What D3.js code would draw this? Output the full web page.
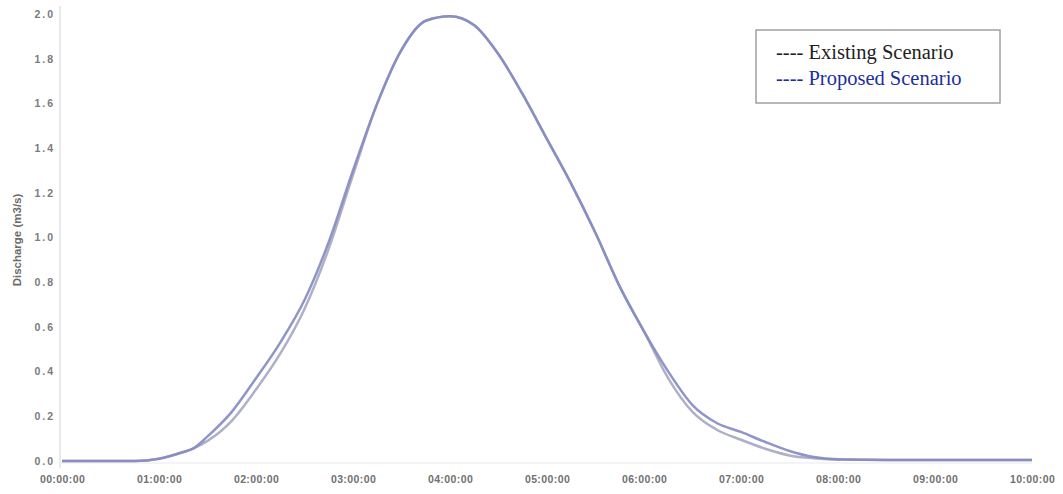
<!DOCTYPE html>
<html>
<head>
<meta charset="utf-8">
<script src="https://cdn.jsdelivr.net/npm/d3@7"></script>
<style>
  body { margin: 0; background: #fff; }
  svg { display: block; }
</style>
</head>
<body>
<svg id="chart" width="1063" height="494"></svg>
<script>
// hydrograph data, hours since start
const times = [0, 0.25, 0.5, 0.75, 1, 1.25, 1.35, 1.5, 1.75, 2, 2.25, 2.5, 2.75, 3, 3.25, 3.5, 3.75, 4, 4.25,
    4.5, 4.75, 5, 5.25, 5.5, 5.75, 6, 6.25, 6.5, 6.75, 7, 7.25, 7.5, 7.75, 8, 8.5, 9, 9.5, 10];
const existing = [0, 0, 0, 0, 0.01, 0.04, 0.055, 0.09, 0.18, 0.32, 0.48, 0.68, 0.95, 1.28, 1.6, 1.84, 1.97, 1.99, 1.95,
    1.82, 1.64, 1.44, 1.24, 1.02, 0.78, 0.58, 0.37, 0.22, 0.14, 0.095, 0.055, 0.025, 0.012, 0.006, 0.005, 0.005, 0.005, 0.005];
const proposed = [0, 0, 0, 0, 0.01, 0.04, 0.055, 0.11, 0.22, 0.37, 0.53, 0.72, 0.98, 1.3, 1.6, 1.84, 1.97, 1.99, 1.95,
    1.82, 1.64, 1.44, 1.24, 1.02, 0.78, 0.58, 0.4, 0.25, 0.17, 0.13, 0.085, 0.045, 0.018, 0.008, 0.005, 0.005, 0.005, 0.005];
const yTicks = [0, 0.2, 0.4, 0.6, 0.8, 1.0, 1.2, 1.4, 1.6, 1.8, 2.0];
const xTicks = [0, 1, 2, 3, 4, 5, 6, 7, 8, 9, 10];
const xTickLabels = ["00:00:00", "01:00:00", "02:00:00", "03:00:00", "04:00:00", "05:00:00",
    "06:00:00", "07:00:00", "08:00:00", "09:00:00", "10:00:00"];
const legendLabels = ["---- Existing Scenario", "---- Proposed Scenario"];

const svg = d3.select("#chart");

const x = d3.scaleLinear().domain([0, 10]).range([62, 1032]);
const y = d3.scaleLinear().domain([0, 2]).range([461, 14]);

// faint axis lines
svg.append("line")
    .attr("x1", 60).attr("x2", 60).attr("y1", 6).attr("y2", 468)
    .attr("stroke", "#e2e2e2").attr("stroke-width", 1.5);
svg.append("line")
    .attr("x1", 60).attr("x2", x(10)).attr("y1", 463).attr("y2", 463)
    .attr("stroke", "#f0f0f0").attr("stroke-width", 1.5);

// y axis
const yAxis = d3.axisLeft(y)
    .tickValues(yTicks)
    .tickFormat(d3.format(".1f"))
    .tickSize(0)
    .tickPadding(5);
svg.append("g")
    .attr("transform", "translate(60,0)")
    .call(yAxis)
    .call(g => g.select(".domain").remove())
    .selectAll("text")
    .attr("font-family", "Arial, 'Liberation Sans', sans-serif")
    .attr("font-size", 10.5)
    .attr("font-weight", "bold")
    .attr("letter-spacing", 2)
    .attr("fill", "#7a7a7a");

// x axis
const xAxis = d3.axisBottom(x)
    .tickValues(xTicks)
    .tickFormat((d, i) => xTickLabels[i])
    .tickSize(0)
    .tickPadding(0);
svg.append("g")
    .attr("transform", "translate(0,476)")
    .call(xAxis)
    .call(g => g.select(".domain").remove())
    .selectAll("text")
    .attr("font-family", "Arial, 'Liberation Sans', sans-serif")
    .attr("font-size", 10.5)
    .attr("font-weight", "bold")
    .attr("letter-spacing", 0.4)
    .attr("fill", "#707070");

// axis title
svg.append("text")
    .attr("transform", "translate(21,240) rotate(-90)")
    .attr("text-anchor", "middle")
    .attr("font-family", "Arial, 'Liberation Sans', sans-serif")
    .attr("font-size", 11.5)
    .attr("font-weight", "bold")
    .attr("fill", "#6a6a6a")
    .text("Discharge (m3/s)");

// lines
const line = d3.line()
    .x((d, i) => x(times[i]))
    .y(d => y(d))
    .curve(d3.curveMonotoneX);

svg.append("path")
    .datum(existing)
    .attr("d", line)
    .attr("fill", "none")
    .attr("stroke", "#aeb0c8")
    .attr("stroke-width", 2.5);

svg.append("path")
    .datum(proposed)
    .attr("d", line)
    .attr("fill", "none")
    .attr("stroke", "#8489c2")
    .attr("stroke-width", 2.5)
    .attr("stroke-opacity", 0.9);

// legend
const legend = svg.append("g").attr("transform", "translate(756,30)");
legend.append("rect")
    .attr("width", 244).attr("height", 73)
    .attr("fill", "#fff")
    .attr("stroke", "#a0a0a0")
    .attr("stroke-width", 1.5);
legend.selectAll("text")
    .data(legendLabels)
    .join("text")
    .attr("x", 20)
    .attr("y", (d, i) => 29 + i * 26)
    .attr("font-family", "'Liberation Serif', 'Times New Roman', serif")
    .attr("font-size", 20.5)
    .attr("fill", (d, i) => i === 0 ? "#1e1e1e" : "#1c2e9c")
    .text(d => d);
</script>
</body>
</html>
